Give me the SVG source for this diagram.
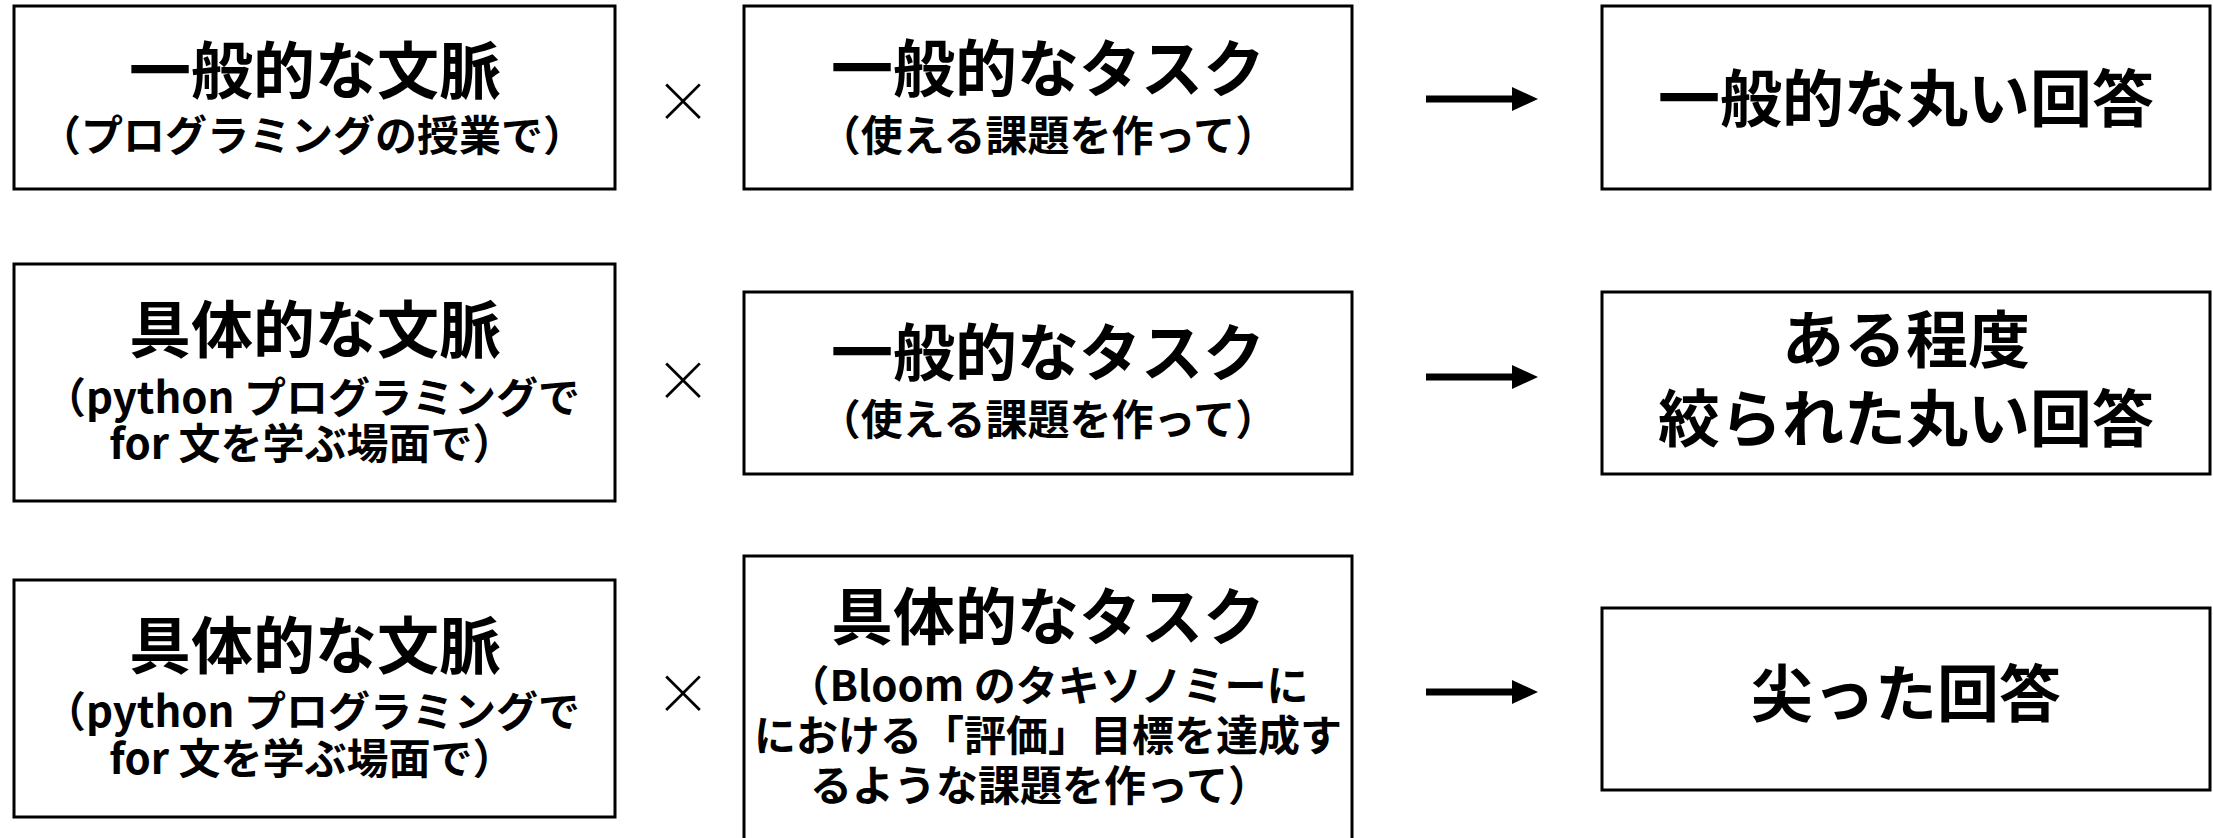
<svg xmlns="http://www.w3.org/2000/svg" width="2213" height="838" viewBox="0 0 2213 838">
<style>
.box{fill:#fff;stroke:#000;stroke-width:3}
.t{font-family:"Noto Sans CJK JP","Noto Sans",sans-serif;font-weight:700;fill:#000;text-anchor:middle}
.h{font-size:62px}
.s{font-size:42px}
.x{font-family:"Noto Sans CJK JP","Noto Sans",sans-serif;font-weight:300;font-size:56px;fill:#000;text-anchor:middle}
.arr{stroke:#000;stroke-width:7;fill:none}
</style>
<defs>
<marker id="ah" markerUnits="userSpaceOnUse" markerWidth="26" markerHeight="24" refX="0" refY="12" orient="auto">
<path d="M0,0 L26,12 L0,24 Z" fill="#000"/>
</marker>
</defs>
<rect width="2213" height="838" fill="#fff"/>
<g id="ctx1">
<rect class="box" x="14" y="6" width="601" height="183"/>
<text class="t h" x="315" y="94">一般的な文脈</text>
<text class="t s" x="312" y="151">（プログラミングの授業で）</text>
</g>
<g id="task1">
<rect class="box" x="744" y="6" width="608" height="183"/>
<text class="t h" x="1048" y="92">一般的なタスク</text>
<text class="t s" x="1048" y="151">（使える課題を作って）</text>
</g>
<g id="ans1">
<rect class="box" x="1602" y="6" width="608" height="183"/>
<text class="t h" x="1906" y="122">一般的な丸い回答</text>
</g>
<g id="ctx2">
<rect class="box" x="14" y="264" width="601" height="237"/>
<text class="t h" x="315" y="353">具体的な文脈</text>
<text class="t s" x="312" y="413">（python プログラミングで</text>
<text class="t s" x="312" y="459">for 文を学ぶ場面で）</text>
</g>
<g id="task2">
<rect class="box" x="744" y="292" width="608" height="182"/>
<text class="t h" x="1048" y="376">一般的なタスク</text>
<text class="t s" x="1048" y="435">（使える課題を作って）</text>
</g>
<g id="ans2">
<rect class="box" x="1602" y="292" width="608" height="182"/>
<text class="t h" x="1906" y="363">ある程度</text>
<text class="t h" x="1906" y="442">絞られた丸い回答</text>
</g>
<g id="ctx3">
<rect class="box" x="14" y="580" width="601" height="237"/>
<text class="t h" x="315" y="669">具体的な文脈</text>
<text class="t s" x="312" y="727">（python プログラミングで</text>
<text class="t s" x="312" y="774">for 文を学ぶ場面で）</text>
</g>
<g id="task3">
<rect class="box" x="744" y="556" width="608" height="300"/>
<text class="t h" x="1048" y="640">具体的なタスク</text>
<text class="t s" x="1048" y="701">（Bloom のタキソノミーに</text>
<text class="t s" x="1048" y="751">における「評価」目標を達成す</text>
<text class="t s" x="1040" y="801">るような課題を作って）</text>
</g>
<g id="ans3">
<rect class="box" x="1602" y="608" width="608" height="182"/>
<text class="t h" x="1906" y="717">尖った回答</text>
</g>
<g id="operators">
<text class="x" x="683" y="122">×</text>
<text class="x" x="683" y="401">×</text>
<text class="x" x="683" y="714">×</text>
</g>
<g id="connectors">
<line class="arr" x1="1426" y1="99" x2="1512" y2="99" marker-end="url(#ah)"/>
<line class="arr" x1="1426" y1="377" x2="1512" y2="377" marker-end="url(#ah)"/>
<line class="arr" x1="1426" y1="692" x2="1512" y2="692" marker-end="url(#ah)"/>
</g>
</svg>
